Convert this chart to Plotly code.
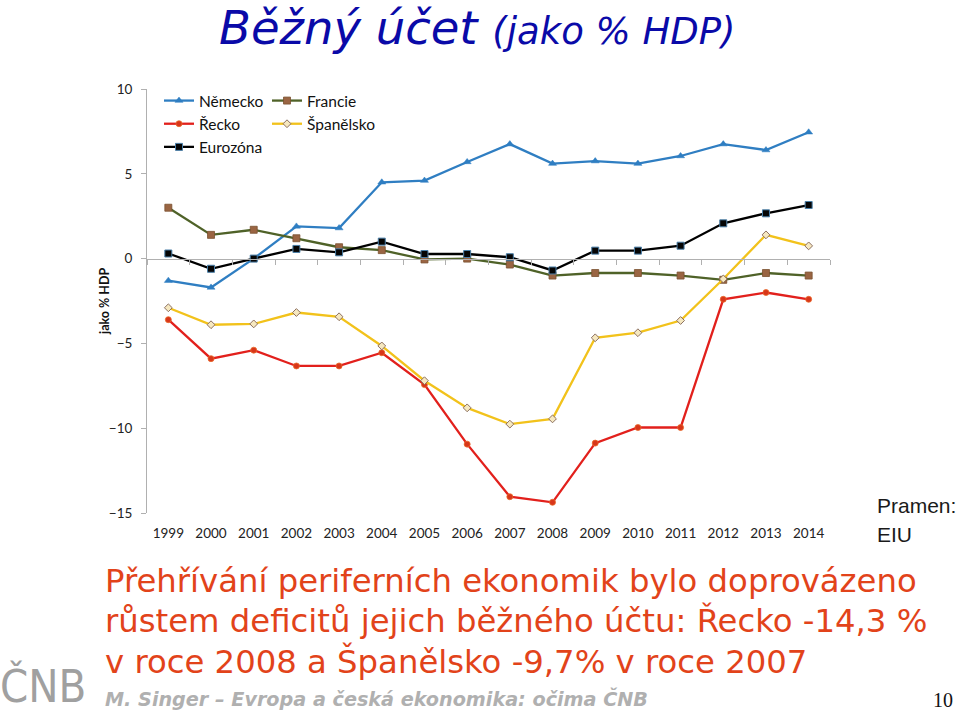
import plotly.graph_objects as go

years = list(range(1999, 2015))
nemecko = [-1.3, -1.7, 0.0, 1.9, 1.8, 4.5, 4.6, 5.7, 6.75, 5.6, 5.75, 5.6, 6.05, 6.75, 6.4, 7.45]
francie = [3.0, 1.4, 1.7, 1.2, 0.67, 0.5, -0.05, 0.0, -0.35, -1.0, -0.85, -0.85, -1.0, -1.25, -0.85, -1.0]
recko = [-3.6, -5.9, -5.4, -6.33, -6.33, -5.55, -7.43, -10.94, -14.04, -14.37, -10.88, -9.96, -9.96, -2.4, -2.0, -2.4]
spanelsko = [-2.9, -3.9, -3.85, -3.18, -3.43, -5.15, -7.2, -8.8, -9.76, -9.45, -4.67, -4.37, -3.65, -1.2, 1.4, 0.75]
eurozona = [0.3, -0.6, 0.0, 0.57, 0.37, 1.0, 0.27, 0.27, 0.08, -0.7, 0.47, 0.47, 0.76, 2.08, 2.67, 3.16]
y_ticks = [-15, -10, -5, 0, 5, 10]

W, H = 960, 713
L, R, T, B = 147, 130, 89, 200
PW, PH = W - L - R, H - T - B


def px(x):
    return (x - L) / PW


def py(y):
    return (H - B - y) / PH


CHART_FONT = "Lato"
fig = go.Figure()

series = [
    ("Německo", nemecko, "legend", "x", dict(color="#2F7EC2", width=2.3),
     dict(symbol="triangle-up", size=7, color="#2F7EC2", line=dict(color="#2F7EC2", width=0.5))),
    ("Francie", francie, "legend2", "x", dict(color="#4F6228", width=2.3),
     dict(symbol="square", size=7, color="#9A6543", line=dict(color="#7A5030", width=0.8))),
    ("Řecko", recko, "legend", "x", dict(color="#E2201C", width=2.3),
     dict(symbol="circle", size=6, color="#D8361A", line=dict(color="#E86A2A", width=0.8))),
    ("Španělsko", spanelsko, "legend2", "x", dict(color="#F2C21B", width=2.3),
     dict(symbol="diamond", size=6, color="#F6E8C0", line=dict(color="#8C7060", width=1))),
    ("Eurozóna", eurozona, "legend", "x2", dict(color="#000000", width=2.3),
     dict(symbol="square", size=7, color="#050505", line=dict(color="#4A7FA8", width=1))),
]
for name, vals, lg, xa, ln, mk in series:
    fig.add_trace(go.Scatter(x=years, y=vals, name=name, mode="lines+markers",
                             line=ln, marker=mk, legend=lg, xaxis=xa, yaxis="y",
                             cliponaxis=False))

boundaries = [y - 0.5 for y in years] + [years[-1] + 0.5]
xr = [years[0] - 0.5, years[-1] + 0.5]

fig.update_layout(
    width=W, height=H,
    margin=dict(l=L, r=R, t=T, b=B, pad=0),
    paper_bgcolor="white", plot_bgcolor="white",
    font=dict(family=CHART_FONT, size=13, color="#222222"),
    xaxis=dict(range=xr, tickvals=boundaries, showticklabels=False,
               showline=True, linecolor="#B0B0B0", linewidth=1,
               ticks="outside", ticklen=5, tickcolor="#B0B0B0",
               showgrid=False, zeroline=False,
               anchor="free", position=0.6),
    xaxis2=dict(range=xr, matches="x", overlaying="x", anchor="y", side="bottom",
                tickvals=years, ticktext=[str(y) for y in years],
                showline=False, ticks="", showgrid=False, zeroline=False,
                tickfont=dict(family=CHART_FONT, size=13.5, color="#222222"),
                ticklabelstandoff=10),
    yaxis=dict(range=[-15, 10], tickvals=y_ticks, showgrid=False, zeroline=False,
               showline=True, linecolor="#B0B0B0", linewidth=1,
               ticks="outside", ticklen=5, tickcolor="#B0B0B0",
               tickfont=dict(family=CHART_FONT, size=13.5, color="#222222"),
               ticklabelstandoff=6),
    legend=dict(x=px(159), y=py(84), xanchor="left", yanchor="top",
                bgcolor="rgba(0,0,0,0)", font=dict(family=CHART_FONT, size=15.5, color="#111111"),
                tracegroupgap=0, itemwidth=30),
    legend2=dict(x=px(267), y=py(84), xanchor="left", yanchor="top",
                 bgcolor="rgba(0,0,0,0)", font=dict(family=CHART_FONT, size=15.5, color="#111111"),
                 tracegroupgap=0, itemwidth=30),
    showlegend=True,
)

ann = []
# Title
ann.append(dict(x=px(477), y=py(28), xanchor="center", yanchor="middle",
                text="Běžný účet <span style='font-size:37px'>(jako % HDP)</span>",
                font=dict(family="DejaVu Sans", size=46.5, color="#0A0AA8", style="italic")))
# y-axis title
ann.append(dict(x=px(104), y=py(301), xanchor="center", yanchor="middle", textangle=-90,
                text="<b>jako % HDP</b>",
                font=dict(family=CHART_FONT, size=12.5, color="#111111")))
# Source
ann.append(dict(x=px(875), y=py(505), xanchor="left", yanchor="middle", text="Pramen:",
                font=dict(family="Liberation Sans", size=21, color="#1A1A1A")))
ann.append(dict(x=px(875), y=py(534), xanchor="left", yanchor="middle", text="EIU",
                font=dict(family="Liberation Sans", size=21, color="#1A1A1A")))
# Red text
red_lines = ["Přehřívání periferních ekonomik bylo doprovázeno",
             "růstem deficitů jejich běžného účtu: Řecko -14,3 %",
             "v roce 2008 a Španělsko -9,7% v roce 2007"]
for i, t in enumerate(red_lines):
    ann.append(dict(x=px(103), y=py(581 + 40 * i), xanchor="left", yanchor="middle", text=t,
                    font=dict(family="DejaVu Sans", size=32.3, color="#E2431A")))
# Footer
ann.append(dict(x=px(103), y=py(699), xanchor="left", yanchor="middle",
                text="<b><i>M. Singer – Evropa a česká ekonomika: očima ČNB</i></b>",
                font=dict(family="DejaVu Sans", size=19.2, color="#B0B0B0")))
ann.append(dict(x=px(955), y=py(700), xanchor="right", yanchor="middle", text="10",
                font=dict(family="Liberation Serif", size=20, color="#111111")))
# Logo
ann.append(dict(x=px(-2), y=py(686), xanchor="left", yanchor="middle", text="ČNB",
                font=dict(family="DejaVu Sans Condensed, Liberation Sans", size=45, color="#A0A0A0")))

for a in ann:
    a.update(xref="paper", yref="paper", showarrow=False)
fig.update_layout(annotations=ann)

fig.write_html("out.html")
